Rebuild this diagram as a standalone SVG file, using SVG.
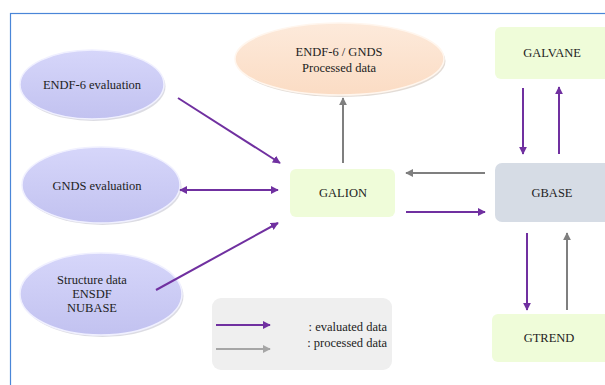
<svg xmlns="http://www.w3.org/2000/svg" width="605" height="385" viewBox="0 0 605 385" font-family="'Liberation Serif','Times New Roman','DejaVu Serif',serif">
<defs>
<style>
text{font-family:'Liberation Serif','Times New Roman','DejaVu Serif',serif;font-size:12.5px;fill:#222;text-anchor:middle}
.ev{fill:url(#gEval);stroke:#f0f0ff;stroke-width:1.5}
.pr{fill:url(#gProc);stroke:#fff6ee;stroke-width:1.5}
.sh{fill:#9a9ab0;opacity:0.35}
.shp{fill:#b09a8a;opacity:0.35}
.box{stroke:none}
.pu{stroke:#7030a0;stroke-width:2;fill:none}
.gr{stroke:#7f7f7f;stroke-width:2;fill:none}
.lg{stroke:#a6a6a6;stroke-width:2;fill:none}
</style>
<linearGradient id="gEval" x1="0" y1="0" x2="0" y2="1">
<stop offset="0" stop-color="#d6d6fa"/>
<stop offset="1" stop-color="#c2c2f0"/>
</linearGradient>
<linearGradient id="gProc" x1="0" y1="0" x2="0" y2="1">
<stop offset="0" stop-color="#fdeadb"/>
<stop offset="1" stop-color="#fbdcc4"/>
</linearGradient>
<marker id="aP" viewBox="0 0 10 10" refX="9" refY="5" markerWidth="4" markerHeight="4" orient="auto-start-reverse" markerUnits="strokeWidth">
<path d="M0,0 L10,5 L0,10 z" fill="#7030a0"/>
</marker>
<marker id="aG" viewBox="0 0 10 10" refX="9" refY="5" markerWidth="4" markerHeight="4" orient="auto-start-reverse" markerUnits="strokeWidth">
<path d="M0,0 L10,5 L0,10 z" fill="#7f7f7f"/>
</marker>
<marker id="aL" viewBox="0 0 10 10" refX="9" refY="5" markerWidth="4" markerHeight="4" orient="auto-start-reverse" markerUnits="strokeWidth">
<path d="M0,0 L10,5 L0,10 z" fill="#a6a6a6"/>
</marker>
</defs>
<rect x="0" y="0" width="605" height="385" fill="#ffffff"/>
<rect x="10.5" y="13.5" width="620" height="400" fill="none" stroke="#4a86d8" stroke-width="1.2"/>

<g id="endf6-eval">
<ellipse class="sh" cx="93.5" cy="86.5" rx="72" ry="34.5"/>
<ellipse class="ev" cx="92" cy="84.5" rx="72" ry="34.5"/>
<text x="92" y="89">ENDF-6 evaluation</text>
</g>
<g id="gnds-eval">
<ellipse class="sh" cx="102.5" cy="187" rx="79" ry="38"/>
<ellipse class="ev" cx="101" cy="185" rx="79" ry="38"/>
<text x="97" y="190">GNDS evaluation</text>
</g>
<g id="structure">
<ellipse class="sh" cx="102.5" cy="296" rx="81" ry="41"/>
<ellipse class="ev" cx="101" cy="294" rx="81" ry="41"/>
<text x="92" y="284">Structure data</text>
<text x="92" y="298">ENSDF</text>
<text x="92" y="312">NUBASE</text>
</g>
<g id="processed">
<ellipse class="shp" cx="341" cy="61" rx="104.5" ry="36"/>
<ellipse class="pr" cx="339.5" cy="59" rx="104.5" ry="36"/>
<text x="339" y="56">ENDF-6 / GNDS</text>
<text x="339" y="72">Processed data</text>
</g>
<g id="galion">
<rect class="box" x="290" y="169" width="105" height="48" rx="6" fill="#effcd9"/>
<text x="343" y="197">GALION</text>
</g>
<g id="galvane">
<rect class="box" x="495" y="27" width="120" height="52" rx="6" fill="#effcd9"/>
<text x="552" y="57">GALVANE</text>
</g>
<g id="gbase">
<rect class="box" x="495" y="163" width="120" height="59" rx="7" fill="#d6dce5"/>
<text x="552" y="197">GBASE</text>
</g>
<g id="gtrend">
<rect class="box" x="492" y="314" width="123" height="48" rx="6" fill="#effcd9"/>
<text x="549" y="342">GTREND</text>
</g>
<g id="legend">
<rect x="212" y="298" width="180" height="72" rx="9" fill="#efefef"/>
<line class="pu" x1="216" y1="325" x2="270" y2="325" marker-end="url(#aP)"/>
<line class="lg" x1="216" y1="349" x2="270" y2="349" marker-end="url(#aL)"/>
<text x="387" y="331" style="text-anchor:end">: evaluated data</text>
<text x="387" y="347" style="text-anchor:end">: processed data</text>
</g>

<g id="connectors">
<line class="pu" x1="178" y1="98" x2="280" y2="163" marker-end="url(#aP)"/>
<line class="pu" x1="180" y1="190" x2="278" y2="190" marker-start="url(#aP)" marker-end="url(#aP)"/>
<line class="pu" x1="156" y1="290" x2="278" y2="223" marker-end="url(#aP)"/>
<line class="gr" x1="343" y1="163" x2="343" y2="98" marker-end="url(#aG)"/>
<line class="gr" x1="485" y1="173" x2="406" y2="173" marker-end="url(#aG)"/>
<line class="pu" x1="406" y1="212" x2="485" y2="212" marker-end="url(#aP)"/>
<line class="pu" x1="523" y1="88" x2="523" y2="154" marker-end="url(#aP)"/>
<line class="pu" x1="559" y1="154" x2="559" y2="87" marker-end="url(#aP)"/>
<line class="pu" x1="527" y1="233" x2="527" y2="310" marker-end="url(#aP)"/>
<line class="gr" x1="567" y1="310" x2="567" y2="233" marker-end="url(#aG)"/>
</g>
</svg>
